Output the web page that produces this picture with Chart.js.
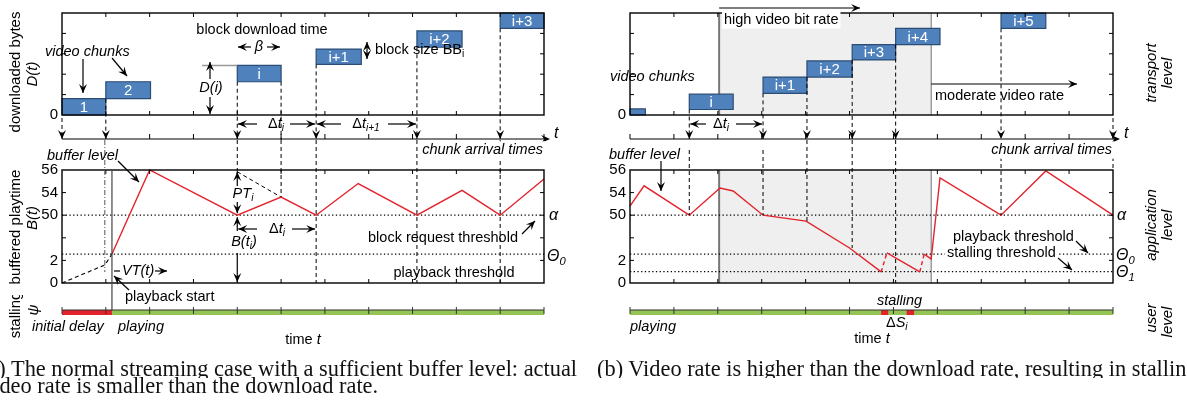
<!DOCTYPE html>
<html>
<head>
<meta charset="utf-8">
<title>Buffer level and stalling</title>
<script src="https://cdn.jsdelivr.net/npm/chart.js@4.4.1/dist/chart.umd.min.js"></script>
<style>
  html, body { margin: 0; padding: 0; background: #fff; }
  body { position: relative; width: 1187px; height: 409px; overflow: hidden; }
  canvas { position: absolute; }
  .cap { position: absolute; font-family: 'Liberation Serif', serif; white-space: nowrap; line-height: 18px; color: #111; overflow: hidden; }
</style>
</head>
<body>
<canvas id="transportA"></canvas>
<canvas id="bufferA"></canvas>
<canvas id="stallA"></canvas>
<canvas id="transportB"></canvas>
<canvas id="bufferB"></canvas>
<canvas id="stallB"></canvas>
<div class="cap" style="left:-19px; top:360px; width:613px">(a) The normal streaming case with a sufficient buffer level: actual</div>
<div class="cap" style="left:-18px; top:377px; width:612px">video rate is smaller than the download rate.</div>
<div class="cap" style="left:597px; top:360px; width:600px">(b) Video rate is higher than the download rate, resulting in stalling</div>
<script>
// ---- data (time in grid units 0..11, levels in axis steps) ----
const timeMax = 11;
const bufferTickLabels = ['0', '2', '', '50', '54', '56'];
const alphaLevel = 3;      // block request threshold
const theta0Level = 1.28;  // playback threshold
const theta1Level = 0.5;   // stalling threshold

// (a) normal streaming
const chunkLabelsA = ['1', '2', 'i', 'i+1', 'i+2', 'i+3'];
const chunkStartA = [0, 1, 4, 5.8, 8.1, 10];
const chunkEndA = [1, 2.02, 5, 6.83, 9.13, 11];
const chunkLowA = [0, 0.8, 1.63, 2.48, 3.32, 4.25];
const chunkHighA = [0.8, 1.63, 2.43, 3.23, 4.12, 5];
const arrivalA = [0, 1, 4, 5.8, 8.1, 10];
const bufferTimeA = [1.14, 2, 4, 5, 5.8, 6.76, 8.1, 9.13, 10, 11];
const bufferLevelA = [1.28, 5, 3, 3.8, 3, 4.4, 3, 4.1, 3, 4.6];
const prebufTimeA = [0, 0.98, 1.14];
const prebufLevelA = [0, 0.8, 1.28];
const expectTimeA = [4, 5];
const expectLevelA = [4.92, 3.8];
const stallStartA = [0];
const stallEndA = [1.14];

// (b) video rate higher than download rate
const chunkLabelsB = ['', 'i', 'i+1', 'i+2', 'i+3', 'i+4', 'i+5'];
const chunkStartB = [0, 1.35, 3.03, 4.03, 5.06, 6.05, 8.45];
const chunkEndB = [0.35, 2.35, 4.03, 5.06, 6.05, 7.06, 9.47];
const chunkLowB = [0, 0.27, 1.06, 1.86, 2.7, 3.45, 4.25];
const chunkHighB = [0.3, 1.02, 1.86, 2.65, 3.45, 4.25, 5];
const arrivalB = [1.35, 3.03, 4.03, 5.06, 6.05, 8.45, 11];
const bufferTimeB = [0, 0.32, 1.35, 2.05, 2.35, 3.03, 4.01, 5.0, 5.72, 5.85, 6.6, 6.7, 6.86, 7.06, 8.45, 9.47, 11];
const bufferLevelB = [3.4, 4.3, 3, 4.2, 4.07, 3, 2.74, 1.55, 0.49, 1.33, 0.49, 1.28, 1.06, 4.65, 3, 4.96, 3];
const bufferDashedB = [8, 10];
const highRateB = [2.03, 6.86];
const stallStartB = [5.72, 6.3];
const stallEndB = [5.88, 6.47];

// ---- styles ----
const SANS = "'Liberation Sans', Arial, sans-serif";
const FS = 14.5;
const RED = '#e3232c', BLUE = '#4f81bd', NAVY = '#2b4c74', GREEN = '#93c454';

// ---- drawing helpers ----
function head(ctx, x, y, ang, L = 9, W = 4) {
  ctx.save();
  ctx.translate(x, y); ctx.rotate(ang);
  ctx.beginPath();
  ctx.moveTo(0, 0); ctx.lineTo(-L, -W); ctx.lineTo(-L * 0.6, 0); ctx.lineTo(-L, W);
  ctx.closePath(); ctx.fill();
  ctx.restore();
}
function dline(ctx, x1, y1, x2, y2, o = {}) {
  ctx.save();
  ctx.strokeStyle = o.color || '#000';
  ctx.lineWidth = o.width || 1;
  ctx.setLineDash(o.dash || []);
  ctx.beginPath(); ctx.moveTo(x1, y1); ctx.lineTo(x2, y2); ctx.stroke();
  ctx.restore();
}
function arrow(ctx, x1, y1, x2, y2, o = {}) {
  dline(ctx, x1, y1, x2, y2, Object.assign({ width: 1.2 }, o));
  ctx.save();
  ctx.fillStyle = o.color || '#000';
  head(ctx, x2, y2, Math.atan2(y2 - y1, x2 - x1));
  if (o.both) head(ctx, x1, y1, Math.atan2(y1 - y2, x1 - x2));
  ctx.restore();
}
// parts: [text, style]; style: '' normal, 'i' italic, 's' subscript, 'si' italic subscript
function rich(ctx, parts, x, y, align = 'left', o = {}) {
  const size = o.size || FS;
  const fonts = parts.map(([, st = '']) =>
    (st.includes('i') ? 'italic ' : '') + (st.includes('s') ? size * 0.7 : size) + 'px ' + SANS);
  ctx.save();
  ctx.textBaseline = 'middle';
  let w = 0;
  const ws = parts.map(([t], k) => { ctx.font = fonts[k]; const m = ctx.measureText(t).width; w += m; return m; });
  let cx = align === 'center' ? x - w / 2 : align === 'right' ? x - w : x;
  if (o.bg) { ctx.fillStyle = o.bg; ctx.fillRect(cx - 2, y - size * 0.6, w + 4, size * 1.2); }
  ctx.fillStyle = o.color || '#000';
  parts.forEach(([t, st = ''], k) => {
    ctx.font = fonts[k];
    ctx.fillText(t, cx, y + (st.includes('s') ? size * 0.3 : 0));
    cx += ws[k];
  });
  ctx.restore();
}
function vtext(ctx, parts, x, y) {
  ctx.save(); ctx.translate(x, y); ctx.rotate(-Math.PI / 2);
  rich(ctx, parts, 0, 0, 'center', { size: 15 });
  ctx.restore();
}
function frame(ctx, X, Y, yMax) {
  const l = X(0), r = X(timeMax), t = Y(yMax), b = Y(0);
  ctx.save();
  ctx.strokeStyle = '#000'; ctx.lineWidth = 1.4;
  ctx.strokeRect(l, t, r - l, b - t);
  ctx.lineWidth = 1; ctx.beginPath();
  for (let k = 1; k < timeMax; k++) {
    const x = X(k);
    ctx.moveTo(x, b); ctx.lineTo(x, b - 4); ctx.moveTo(x, t); ctx.lineTo(x, t + 4);
  }
  for (let k = 1; k < yMax; k++) {
    const y = Y(k);
    ctx.moveTo(l, y); ctx.lineTo(l + 4, y); ctx.moveTo(r, y); ctx.lineTo(r - 4, y);
  }
  ctx.stroke(); ctx.restore();
}
function timeAxis(ctx, X, y, xEnd) {
  dline(ctx, X(0), y, xEnd, y, { width: 1.2 });
  head(ctx, xEnd + 3, y, 0);
  ctx.save(); ctx.lineWidth = 1; ctx.beginPath();
  for (let k = 0; k <= timeMax; k++) { ctx.moveTo(X(k), y - 5); ctx.lineTo(X(k), y); }
  ctx.stroke(); ctx.restore();
  rich(ctx, [['t', 'i']], xEnd + 7, y - 5, 'left', { size: 16 });
}
function blockText(ctx, X, Y, labels, s, e, lo, hi) {
  labels.forEach((lab, k) => {
    if (lab) rich(ctx, [[lab, '']], X((s[k] + e[k]) / 2), Y((lo[k] + hi[k]) / 2) + 1, 'center', { color: '#fff', size: 15 });
  });
}
function stallTicks(ctx, X) {
  dline(ctx, X(0), 310, X(timeMax), 310, { color: '#333', width: 1 });
  ctx.save(); ctx.strokeStyle = '#333'; ctx.lineWidth = 1; ctx.beginPath();
  for (let k = 0; k <= timeMax; k++) { ctx.moveTo(X(k), 307); ctx.lineTo(X(k), 314); }
  ctx.stroke(); ctx.restore();
}
const DT = [['Δ', ''], ['t', 'i'], ['i', 'si']];

// ---- dataset builders ----
function poly(xs, ys, o) {
  return Object.assign({
    data: xs.map((x, k) => ({ x, y: ys[k] })),
    showLine: true, pointRadius: 0, borderWidth: 1.3, tension: 0, fill: false, clip: false
  }, o);
}
function rectSet(x0, x1, y0, y1, o) {
  return poly([x0, x0, x1, x1, x0], [y0, y1, y1, y0, y0], Object.assign({ fill: 'shape' }, o));
}
function hline(y) {
  return poly([0, timeMax], [y, y], { borderColor: '#000', borderWidth: 1.2, borderDash: [1.3, 2.4] });
}
function chunkSets(s, e, lo, hi) {
  return s.map((x, k) => rectSet(x, e[k], lo[k], hi[k], { backgroundColor: BLUE, borderColor: NAVY, borderWidth: 1.2 }));
}
function stallSets(s, e) {
  return s.map((x, k) => poly([x, e[k]], [0.5, 0.5], { borderColor: RED, borderWidth: 5 }))
    .concat([poly([0, timeMax], [0.5, 0.5], { borderColor: GREEN, borderWidth: 5 })]);
}
function highRateSets(yMax) {
  return [
    poly([highRateB[0], highRateB[0]], [0, yMax], { borderColor: '#777', borderWidth: 2, order: 8 }),
    poly([highRateB[1], highRateB[1]], [0, yMax], { borderColor: '#888', borderWidth: 1.2, order: 8 }),
    rectSet(highRateB[0], highRateB[1], 0, yMax, { backgroundColor: '#efefef', borderColor: 'rgba(0,0,0,0)', order: 9 })
  ];
}

// ---- chart factory ----
function makeChart(id, col, row, datasets, yMax, yLabels, draw) {
  const box = Object.assign({}, col, row);
  const cv = document.getElementById(id);
  cv.width = box.w; cv.height = box.h;
  cv.style.left = box.left + 'px'; cv.style.top = box.top + 'px';
  const hidden = { grid: { display: false, drawTicks: false }, border: { display: false } };
  return new Chart(cv, {
    type: 'scatter',
    data: { datasets },
    options: {
      responsive: false, animation: false, events: [],
      layout: { padding: { top: box.areaTop - box.top, left: 0, right: 0, bottom: 0 } },
      plugins: { legend: { display: false }, tooltip: { enabled: false } },
      scales: {
        x: { type: 'linear', min: 0, max: timeMax, ...hidden, ticks: { display: false },
             afterFit: s => { s.height = box.top + box.h - box.areaBottom; } },
        y: { type: 'linear', min: 0, max: yMax, ...hidden,
             ticks: { display: !!yLabels, stepSize: 1, padding: 4, color: '#000',
                      font: { family: SANS, size: 15 },
                      callback: v => (yLabels ? (yLabels[v] ?? '') : '') },
             afterFit: s => { s.width = box.areaLeft - box.left; } },
        y2: { type: 'linear', position: 'right', min: 0, max: yMax, ...hidden, ticks: { display: false },
              afterFit: s => { s.width = box.left + box.w - box.areaRight; } }
      }
    },
    plugins: [{
      id: 'deco_' + id,
      afterDraw(chart) {
        const xs = chart.scales.x, ys = chart.scales.y;
        const X = v => box.left + xs.getPixelForValue(v);
        const Y = v => box.top + ys.getPixelForValue(v);
        const ctx = chart.ctx;
        ctx.save(); ctx.translate(-box.left, -box.top);
        draw(ctx, X, Y);
        ctx.restore();
      }
    }]
  });
}

const colA = { left: 0, w: 600, areaLeft: 62, areaRight: 544 };
const colB = { left: 568, w: 619, areaLeft: 630, areaRight: 1113 };
const rowT = { top: 0, h: 150, areaTop: 2, areaBottom: 115 };
const rowM = { top: 130, h: 190, areaTop: 170, areaBottom: 283 };
const rowS = { top: 295, h: 60, areaTop: 309, areaBottom: 316 };

// ---- (a) transport level ----
makeChart('transportA', colA, rowT, chunkSets(chunkStartA, chunkEndA, chunkLowA, chunkHighA), 5, ['0'], (ctx, X, Y) => {
  frame(ctx, X, Y, 5);
  blockText(ctx, X, Y, chunkLabelsA, chunkStartA, chunkEndA, chunkLowA, chunkHighA);
  const AX = 139;
  arrivalA.forEach(t => {
    const j = chunkStartA.indexOf(t);
    const y0 = (j >= 0 && chunkLowA[j] > 0) ? Y(chunkLowA[j]) : 118;
    arrow(ctx, X(t), y0, X(t), AX, { dash: [4, 3], width: 1 });
  });
  dline(ctx, X(chunkEndA[2]), Y(chunkLowA[2]), X(chunkEndA[2]), AX + 1, { dash: [4, 3] });
  timeAxis(ctx, X, AX, 547);
  rich(ctx, [['block download time', '']], 262, 30, 'center');
  arrow(ctx, 251, 47, 238, 47);
  rich(ctx, [['β', 'i']], 259, 47, 'center');
  arrow(ctx, 267, 47, 280, 47);
  dline(ctx, 202, Y(chunkHighA[2]), X(4), Y(chunkHighA[2]), { color: '#999', width: 1.5 });
  arrow(ctx, 210, 79, 210, 62);
  arrow(ctx, 210, 97, 210, 114);
  rich(ctx, [['D(i)', 'i']], 211, 88, 'center');
  rich(ctx, [['video chunks', 'i']], 45, 52);
  arrow(ctx, 83, 59, 83, 93);
  arrow(ctx, 112, 58, 127, 76);
  arrow(ctx, 367, 42, 367, 59, { both: true });
  rich(ctx, [['block size BB', ''], ['i', 's']], 375, 50);
  arrow(ctx, 257, 124, 238, 124);
  rich(ctx, DT, 276, 124, 'center');
  arrow(ctx, 290, 124, 315, 124);
  arrow(ctx, 341, 124, 317, 124);
  rich(ctx, [['Δ', ''], ['t', 'i'], ['i+1', 'si']], 366, 124, 'center');
  arrow(ctx, 388, 124, 416, 124);
  vtext(ctx, [['downloaded bytes', '']], 16, 72);
  vtext(ctx, [['D(t)', 'i']], 33, 74);
});

// ---- (a) application level ----
makeChart('bufferA', colA, rowM, [
  poly(bufferTimeA, bufferLevelA, { borderColor: RED, borderWidth: 1.4 }),
  poly(prebufTimeA, prebufLevelA, { borderColor: '#000', borderWidth: 1.1, borderDash: [4, 3] }),
  poly(expectTimeA, expectLevelA, { borderColor: '#000', borderWidth: 1, borderDash: [4, 3] }),
  hline(alphaLevel), hline(theta0Level)
], 5, bufferTickLabels, (ctx, X, Y) => {
  frame(ctx, X, Y, 5);
  const d = { dash: [4, 3] };
  dline(ctx, X(arrivalA[1]) - 1, 140, X(arrivalA[1]) - 1, 272, { dash: [5, 2, 1, 2], color: '#555' });
  dline(ctx, X(arrivalA[2]), 140, X(arrivalA[2]), 170, d);
  dline(ctx, X(chunkEndA[2]), 140, X(chunkEndA[2]), Y(3.8), d);
  [3, 4, 5].forEach(k => dline(ctx, X(arrivalA[k]), 140, X(arrivalA[k]), Y(0), d));
  rich(ctx, [['chunk arrival times', 'i']], 543, 150, 'right', { bg: '#fff' });
  dline(ctx, X(stallEndA[0]), Y(5), X(stallEndA[0]), 312, { color: '#444', width: 1.2 });
  const x4 = X(arrivalA[2]);
  arrow(ctx, x4, 186, x4, 172);
  arrow(ctx, x4, 202, x4, Y(alphaLevel) - 2);
  rich(ctx, [['PT', 'i'], ['i', 'si']], 243, 194, 'center');
  arrow(ctx, x4, 231, x4, Y(alphaLevel) + 2);
  rich(ctx, [['B(t', 'i'], ['i', 'si'], [')', 'i']], 244, 242, 'center');
  arrow(ctx, x4, 253, x4, Y(0) - 1);
  arrow(ctx, 257, 229, x4 + 1, 229);
  rich(ctx, DT, 277, 229, 'center');
  arrow(ctx, 292, 229, X(arrivalA[3]) - 1, 229);
  rich(ctx, [['buffer level', 'i']], 47, 156);
  arrow(ctx, 118, 161, 139, 182);
  rich(ctx, [['block request threshold', '']], 443, 238, 'center');
  arrow(ctx, 522, 234, 535, 221);
  rich(ctx, [['playback threshold', '']], 454, 273, 'center');
  rich(ctx, [['α', 'i']], 549, Y(alphaLevel), 'left', { size: 16 });
  rich(ctx, [['Θ', 'i'], ['0', 'si']], 547, 257, 'left', { size: 16 });
  dline(ctx, 114, 271, 120, 271, { width: 1.2 });
  rich(ctx, [['VT(t)', 'i']], 122, 271);
  arrow(ctx, 155, 271, 167, 271);
  rich(ctx, [['playback start', '']], 125, 297);
  arrow(ctx, 129, 290, 114, 276);
  vtext(ctx, [['buffered playtime', '']], 16, 227);
  vtext(ctx, [['B(t)', 'i']], 33, 218);
});

// ---- (a) user level ----
makeChart('stallA', colA, rowS, stallSets(stallStartA, stallEndA), 1, null, (ctx, X) => {
  stallTicks(ctx, X);
  vtext(ctx, [['stalling', '']], 16, 315);
  vtext(ctx, [['ψ', 'i']], 34, 310);
  rich(ctx, [['initial delay', 'i']], 32, 327);
  rich(ctx, [['playing', 'i']], 118, 327);
  rich(ctx, [['time ', ''], ['t', 'i']], 303, 340, 'center');
});

// ---- (b) transport level ----
makeChart('transportB', colB, rowT,
  chunkSets(chunkStartB, chunkEndB, chunkLowB, chunkHighB).concat(highRateSets(5)), 5, ['0'], (ctx, X, Y) => {
  frame(ctx, X, Y, 5);
  blockText(ctx, X, Y, chunkLabelsB, chunkStartB, chunkEndB, chunkLowB, chunkHighB);
  const AX = 139;
  arrivalB.forEach(t => {
    const j = chunkStartB.indexOf(t);
    const y0 = j >= 0 ? Y(chunkLowB[j]) : 118;
    arrow(ctx, X(t), y0, X(t), AX, { dash: [4, 3], width: 1 });
  });
  timeAxis(ctx, X, AX, 1117);
  arrow(ctx, 706, 124, X(arrivalB[0]) + 1, 124);
  rich(ctx, DT, 721, 124, 'center');
  arrow(ctx, 736, 124, X(arrivalB[1]) - 1, 124);
  rich(ctx, [['high video bit rate', '']], 724, 20, 'left', { bg: '#fff' });
  arrow(ctx, X(highRateB[0]), 8, 860, 8);
  rich(ctx, [['moderate video rate', '']], 935, 96);
  arrow(ctx, X(highRateB[1]), 84, 1077, 84);
  rich(ctx, [['video chunks', 'i']], 610, 77);
  vtext(ctx, [['transport', 'i']], 1152, 73);
  vtext(ctx, [['level', 'i']], 1168, 73);
});

// ---- (b) application level ----
makeChart('bufferB', colB, rowM, [
  poly(bufferTimeB, bufferLevelB, { borderColor: RED, borderWidth: 1.4,
    segment: { borderDash: c => (bufferDashedB.includes(c.p0DataIndex) ? [4, 3] : undefined) } }),
  hline(alphaLevel), hline(theta0Level), hline(theta1Level)
].concat(highRateSets(5)), 5, bufferTickLabels, (ctx, X, Y) => {
  frame(ctx, X, Y, 5);
  const d = { dash: [4, 3] };
  dline(ctx, X(arrivalB[0]), 150, X(arrivalB[0]), Y(alphaLevel), d);
  dline(ctx, X(arrivalB[1]), 150, X(arrivalB[1]), Y(alphaLevel), d);
  dline(ctx, X(arrivalB[2]), 140, X(arrivalB[2]), Y(2.74), d);
  dline(ctx, X(arrivalB[3]), 140, X(arrivalB[3]), Y(1.55), d);
  dline(ctx, X(arrivalB[4]), 140, X(arrivalB[4]), Y(0), d);
  dline(ctx, X(arrivalB[5]), 150, X(arrivalB[5]), Y(alphaLevel), d);
  dline(ctx, X(arrivalB[6]), 150, X(arrivalB[6]), Y(5), d);
  rich(ctx, [['chunk arrival times', 'i']], 1112, 150, 'right', { bg: '#fff' });
  rich(ctx, [['buffer level', 'i']], 609, 155);
  arrow(ctx, 661, 161, 661, 191);
  rich(ctx, [['playback threshold', '']], 953, 237, 'left', { bg: '#fff' });
  arrow(ctx, 1076, 241, 1088, 253);
  rich(ctx, [['stalling threshold', '']], 947, 253, 'left', { bg: '#fff' });
  arrow(ctx, 1058, 258, 1072, 270);
  rich(ctx, [['α', 'i']], 1117, Y(alphaLevel), 'left', { size: 16 });
  rich(ctx, [['Θ', 'i'], ['0', 'si']], 1116, 256, 'left', { size: 16 });
  rich(ctx, [['Θ', 'i'], ['1', 'si']], 1116, 273, 'left', { size: 16 });
  vtext(ctx, [['application', 'i']], 1152, 225);
  vtext(ctx, [['level', 'i']], 1168, 225);
});

// ---- (b) user level ----
makeChart('stallB', colB, rowS, stallSets(stallStartB, stallEndB), 1, null, (ctx, X) => {
  stallTicks(ctx, X);
  rich(ctx, [['stalling', 'i']], 877, 301);
  rich(ctx, [['Δ', ''], ['S', 'i'], ['i', 'si']], 886, 323);
  rich(ctx, [['playing', 'i']], 630, 327);
  rich(ctx, [['time ', ''], ['t', 'i']], 872, 339, 'center');
  vtext(ctx, [['user', 'i']], 1152, 318);
  vtext(ctx, [['level', 'i']], 1168, 322);
});

// caption font sized so the (b) line spans the same width as in the figure
(function fitCaption() {
  const c = document.createElement('canvas').getContext('2d');
  c.font = "100px 'Liberation Serif'";
  const w = c.measureText('(b) Video rate is higher than the download rate, resulting in stallin').width;
  const size = 100 * 590 / w;
  document.querySelectorAll('.cap').forEach(d => { d.style.fontSize = size.toFixed(2) + 'px'; });
})();
</script>
</body>
</html>
